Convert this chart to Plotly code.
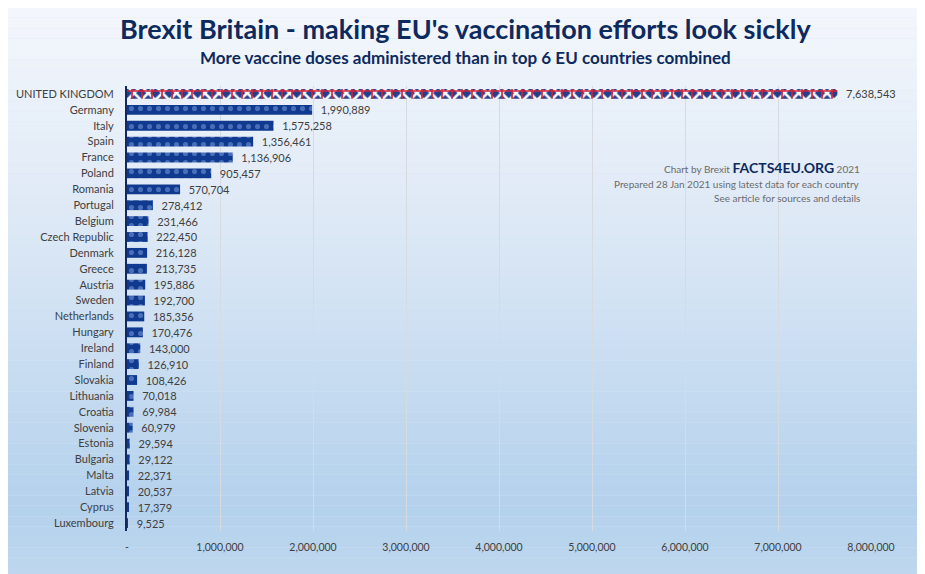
#!/usr/bin/env python3
"""Brexit Britain vs EU vaccination doses - horizontal bar chart."""
import plotly.graph_objects as go

# Data
uk_label = 'UNITED KINGDOM'
uk_doses = 7638543

eu_countries = ['Germany', 'Italy', 'Spain', 'France', 'Poland', 'Romania', 'Portugal',
                'Belgium', 'Czech Republic', 'Denmark', 'Greece', 'Austria', 'Sweden',
                'Netherlands', 'Hungary', 'Ireland', 'Finland', 'Slovakia', 'Lithuania',
                'Croatia', 'Slovenia', 'Estonia', 'Bulgaria', 'Malta', 'Latvia', 'Cyprus',
                'Luxembourg']
eu_doses = [1990889, 1575258, 1356461, 1136906, 905457, 570704, 278412,
            231466, 222450, 216128, 213735, 195886, 192700,
            185356, 170476, 143000, 126910, 108426, 70018,
            69984, 60979, 29594, 29122, 22371, 20537, 17379,
            9525]

tick_vals = [0, 1000000, 2000000, 3000000, 4000000, 5000000, 6000000, 7000000, 8000000]
tick_text = ['-', '1,000,000', '2,000,000', '3,000,000', '4,000,000',
             '5,000,000', '6,000,000', '7,000,000', '8,000,000']

title_text = "Brexit Britain - making EU's vaccination efforts look sickly"
subtitle_text = "More vaccine doses administered than in top 6 EU countries combined"

FONT = 'Lato'
NAVY = '#0d2a5e'
GREY = '#404040'
NOTE_GREY = '#6b6b6b'
GAP = '\u00a0\u00a0'  # small gap between bar end and value label

fig = go.Figure()

# UK bar: union-jack-ish pattern, two layers
fig.add_trace(go.Bar(
    y=[uk_label], x=[uk_doses], orientation='h', width=0.62,
    marker=dict(color='#23408e', line=dict(width=0),
                pattern=dict(shape='x', fgcolor='#ffffff', bgcolor='#23408e',
                             size=10, solidity=0.45, fillmode='replace')),
    hoverinfo='skip', showlegend=False,
))
fig.add_trace(go.Bar(
    y=[uk_label], x=[uk_doses], orientation='h', width=0.62,
    marker=dict(color='rgba(0,0,0,0)', line=dict(width=0),
                pattern=dict(shape='+', fgcolor='#d0233a', bgcolor='rgba(0,0,0,0)',
                             size=10, solidity=0.3, fillmode='replace')),
    texttemplate=GAP + '%{x:,}', textposition='outside', cliponaxis=False,
    constraintext='none',
    textfont=dict(family=FONT, size=11, color=GREY),
    hovertemplate='<b>%{y}</b><br>%{x:,}<extra></extra>', showlegend=False,
))

# EU bars: navy with star-like dot pattern
fig.add_trace(go.Bar(
    y=eu_countries, x=eu_doses, orientation='h', width=0.62,
    marker=dict(color='#0f3a8f', line=dict(width=0),
                pattern=dict(shape='.', fgcolor='#4a6fb8', bgcolor='#0f3a8f',
                             size=9, solidity=0.25, fillmode='replace')),
    texttemplate=GAP + '%{x:,}', textposition='outside', cliponaxis=False,
    constraintext='none',
    textfont=dict(family=FONT, size=11, color=GREY),
    hovertemplate='<b>%{y}</b><br>%{x:,}<extra></extra>', showlegend=False,
))

# Background gradient (light at top, blue towards bottom)
stops = [(0.0, (244, 247, 252)), (0.35, (222, 233, 246)), (0.82, (180, 209, 236)),
         (1.0, (196, 218, 240))]
n = 60
shapes = []
for i in range(n):
    t = i / (n - 1)
    for (p0, c0), (p1, c1) in zip(stops[:-1], stops[1:]):
        if p0 <= t <= p1:
            f = (t - p0) / (p1 - p0)
            c = tuple(round(a + (b - a) * f) for a, b in zip(c0, c1))
            break
    shapes.append(dict(type='rect', xref='paper', yref='paper', layer='below',
                       x0=-1, x1=2, y0=1.2 - (i + 1) * 1.4 / n, y1=1.2 - i * 1.4 / n,
                       line=dict(width=0), fillcolor='rgb(%d,%d,%d)' % c))


def note(text, y, size=10):
    return dict(text=text, xref='paper', yref='paper', x=0.988, y=y,
                xanchor='right', yanchor='middle',
                font=dict(family=FONT, size=size, color=NOTE_GREY), showarrow=False)


fig.update_layout(
    width=925, height=574,
    barmode='overlay',
    paper_bgcolor='#dbe7f5',
    plot_bgcolor='rgba(0,0,0,0)',
    margin=dict(l=119, r=62, t=78, b=51),
    shapes=shapes,
    font=dict(family=FONT, color=GREY),
    xaxis=dict(range=[0, 8000000], tickvals=tick_vals, ticktext=tick_text,
               showgrid=True, gridcolor='#d6dbe2', gridwidth=1, zeroline=False,
               showline=False, ticks='', ticklabelstandoff=8, automargin=False,
               tickfont=dict(family=FONT, size=10.5, color=GREY), fixedrange=True),
    yaxis=dict(autorange='reversed', showgrid=False, showline=True,
               linecolor='#12285e', linewidth=2, ticks='', ticklabelstandoff=9,
               automargin=False,
               tickfont=dict(family=FONT, size=11, color=GREY), fixedrange=True),
    annotations=[
        dict(text='<b>' + title_text + '</b>', xref='paper', yref='paper',
             x=0.455, y=1.13, xanchor='center', yanchor='middle',
             font=dict(family=FONT, size=27, color=NAVY), showarrow=False),
        dict(text='<b>' + subtitle_text + '</b>', xref='paper', yref='paper',
             x=0.455, y=1.065, xanchor='center', yanchor='middle',
             font=dict(family=FONT, size=17, color=NAVY), showarrow=False),
        note('Chart by Brexit <span style="font-size:14px;color:' + NAVY
             + '"><b>FACTS4EU.ORG</b></span> 2021', 0.816),
        note('Prepared 28 Jan 2021 using latest data for each country', 0.780),
        note('See article for sources and details', 0.748),
    ],
)

fig.write_html('out.html')
